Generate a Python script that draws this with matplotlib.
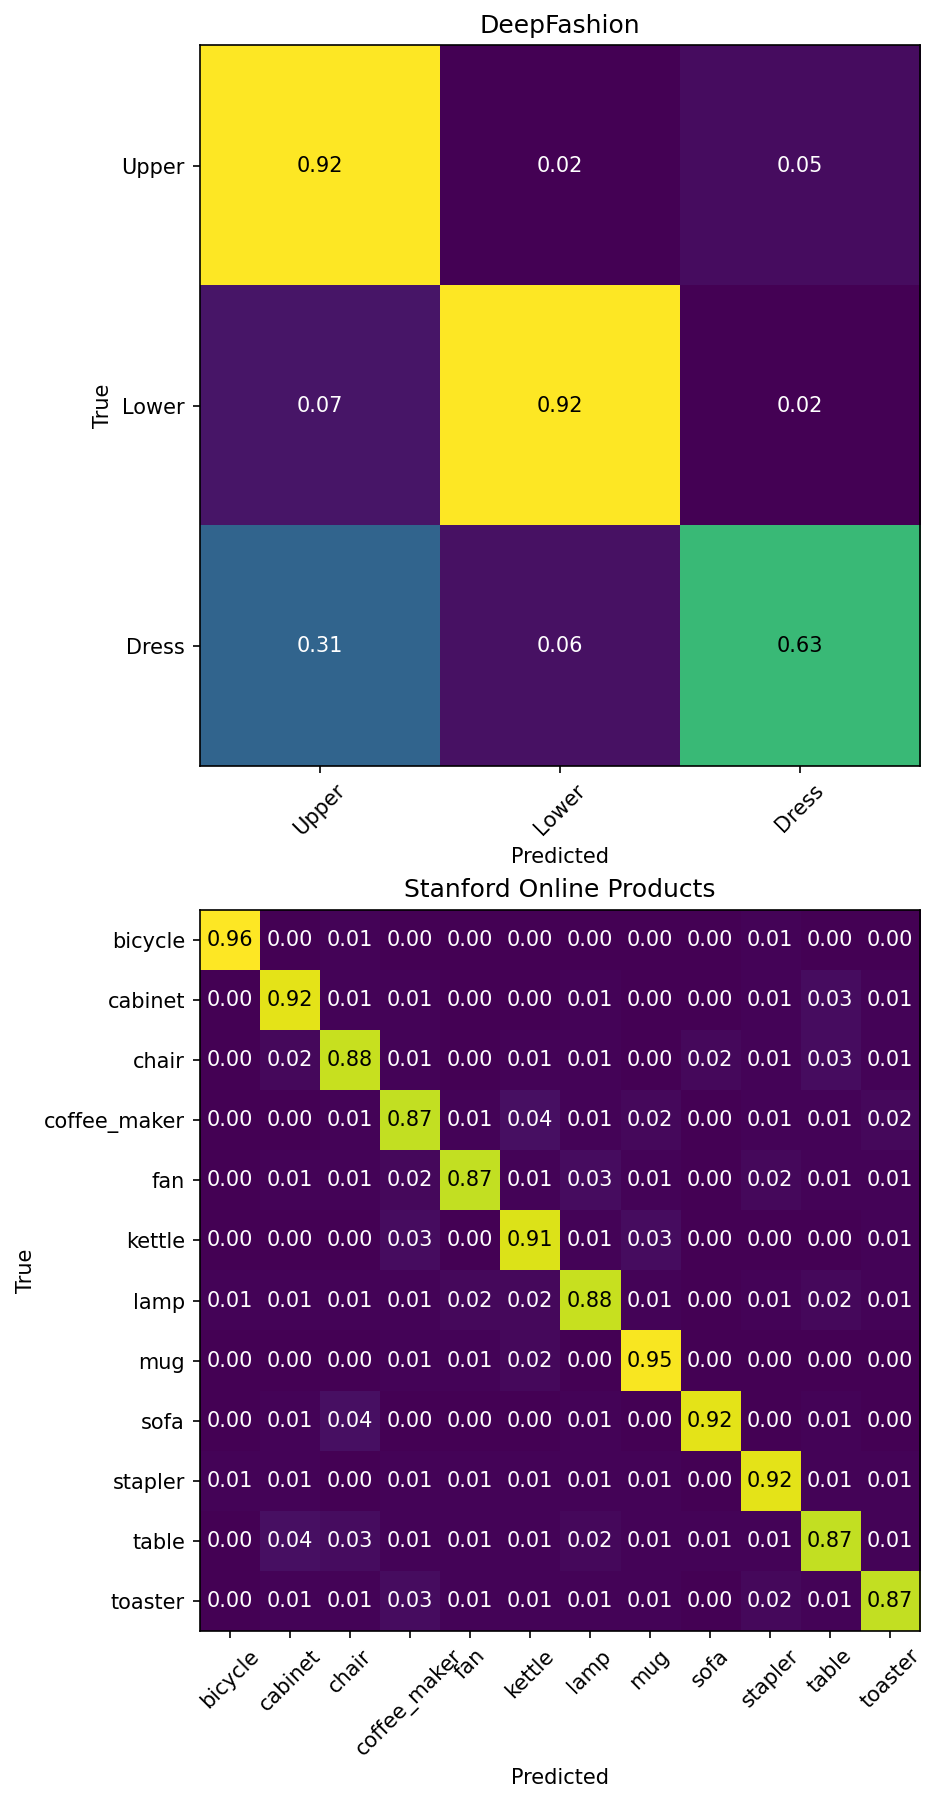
import numpy as np
import matplotlib
matplotlib.use("Agg")
from matplotlib import pyplot as plt

# DeepFashion confusion matrix (rows = true, cols = predicted)
df_classes = ["Upper", "Lower", "Dress"]
df_matrix = [
    [0.92, 0.02, 0.05],
    [0.07, 0.92, 0.02],
    [0.31, 0.06, 0.63],
]

# Stanford Online Products confusion matrix
sop_classes = ["bicycle", "cabinet", "chair", "coffee_maker", "fan", "kettle",
               "lamp", "mug", "sofa", "stapler", "table", "toaster"]
sop_matrix = [
    [0.96, 0.00, 0.01, 0.00, 0.00, 0.00, 0.00, 0.00, 0.00, 0.01, 0.00, 0.00],
    [0.00, 0.92, 0.01, 0.01, 0.00, 0.00, 0.01, 0.00, 0.00, 0.01, 0.03, 0.01],
    [0.00, 0.02, 0.88, 0.01, 0.00, 0.01, 0.01, 0.00, 0.02, 0.01, 0.03, 0.01],
    [0.00, 0.00, 0.01, 0.87, 0.01, 0.04, 0.01, 0.02, 0.00, 0.01, 0.01, 0.02],
    [0.00, 0.01, 0.01, 0.02, 0.87, 0.01, 0.03, 0.01, 0.00, 0.02, 0.01, 0.01],
    [0.00, 0.00, 0.00, 0.03, 0.00, 0.91, 0.01, 0.03, 0.00, 0.00, 0.00, 0.01],
    [0.01, 0.01, 0.01, 0.01, 0.02, 0.02, 0.88, 0.01, 0.00, 0.01, 0.02, 0.01],
    [0.00, 0.00, 0.00, 0.01, 0.01, 0.02, 0.00, 0.95, 0.00, 0.00, 0.00, 0.00],
    [0.00, 0.01, 0.04, 0.00, 0.00, 0.00, 0.01, 0.00, 0.92, 0.00, 0.01, 0.00],
    [0.01, 0.01, 0.00, 0.01, 0.01, 0.01, 0.01, 0.01, 0.00, 0.92, 0.01, 0.01],
    [0.00, 0.04, 0.03, 0.01, 0.01, 0.01, 0.02, 0.01, 0.01, 0.01, 0.87, 0.01],
    [0.00, 0.01, 0.01, 0.03, 0.01, 0.01, 0.01, 0.01, 0.00, 0.02, 0.01, 0.87],
]

W, H = 938, 1804
fig = plt.figure(figsize=(W / 150, H / 150), dpi=150)


def plot_cm(ax, cm, classes, title):
    cm = np.array(cm)
    ax.imshow(cm, interpolation="nearest", cmap="viridis", aspect="auto")
    ax.set_title(title)
    ticks = np.arange(len(classes))
    ax.set_xticks(ticks)
    ax.set_xticklabels(classes, rotation=45)
    ax.set_yticks(ticks)
    ax.set_yticklabels(classes)
    thresh = cm.max() / 2.
    for i in range(cm.shape[0]):
        for j in range(cm.shape[1]):
            ax.text(j, i, format(cm[i, j], ".2f"),
                    ha="center", va="center",
                    color="white" if cm[i, j] < thresh else "black")
    ax.set_ylabel("True")
    ax.set_xlabel("Predicted")


# axes placed from pixel boxes of the reference
ax1 = fig.add_axes([199.5 / W, 1 - 765.6 / H, 720.5 / W, 720.1 / H])
ax2 = fig.add_axes([199.5 / W, 1 - 1631 / H, 720.5 / W, 721 / H])

plot_cm(ax1, df_matrix, df_classes, "DeepFashion")
plot_cm(ax2, sop_matrix, sop_classes, "Stanford Online Products")

fig.savefig("out.png", dpi=150)
